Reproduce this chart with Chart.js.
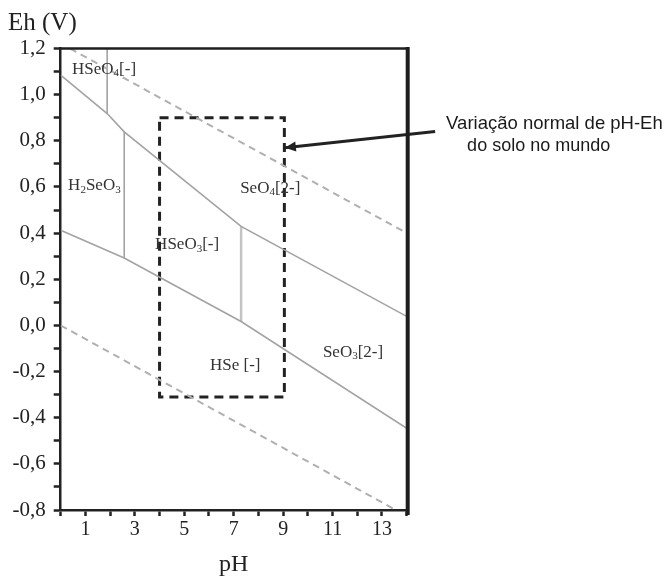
<!DOCTYPE html>
<html><head><meta charset="utf-8">
<script src="https://cdn.jsdelivr.net/npm/chart.js@4"></script>
<style>html,body{margin:0;padding:0;background:#fff}#wrap{width:670px;height:577px}</style>
</head><body><div id="wrap"><canvas id="c" width="670" height="577"></canvas></div>
<script>
// ---- data (pH, Eh in V) ----
const upperPH = [0, 1.88, 2.57, 7.30, 14];
const upperEh = [1.085, 0.918, 0.839, 0.429, 0.039];
const lowerPH = [0, 2.57, 7.30, 14];
const lowerEh = [0.412, 0.292, 0.017, -0.446];
const vert1PH = [1.88, 1.88];
const vert1Eh = [0.918, 1.2];
const vert2PH = [2.57, 2.57];
const vert2Eh = [0.292, 0.839];
const vert3PH = [7.30, 7.30];
const vert3Eh = [0.017, 0.429];
const waterUpPH = [0.38, 14];
const waterUpEh = [1.2, 0.40];
const waterLowPH = [0, 13.56];
const waterLowEh = [0, -0.8];
const boxPH = [4.0, 9.05];
const boxEh = [-0.31, 0.90];
const arrowPH = [15.15, 9.07];
const arrowEh = [0.84, 0.77];

const xTickValues = [1, 3, 5, 7, 9, 11, 13];
const xTickLabels = ['1', '3', '5', '7', '9', '11', '13'];
const yTickValues = [-0.8, -0.6, -0.4, -0.2, 0, 0.2, 0.4, 0.6, 0.8, 1.0, 1.2];
const yTickLabels = ['-0,8', '-0,6', '-0,4', '-0,2', '0,0', '0,2', '0,4', '0,6', '0,8', '1,0', '1,2'];

// region labels: [text, isSubscript] parts
const regionNames = [
  [['HSeO', false], ['4', true], ['[-]', false]],
  [['H', false], ['2', true], ['SeO', false], ['3', true]],
  [['SeO', false], ['4', true], ['[2-]', false]],
  [['HSeO', false], ['3', true], ['[-]', false]],
  [['HSe [-]', false]],
  [['SeO', false], ['3', true], ['[2-]', false]]
];
const regionPH = [0.46, 0.30, 7.26, 3.82, 6.04, 10.61];
const regionEh = [1.109, 0.604, 0.595, 0.350, -0.175, -0.117];

const noteLines = ['Variação normal de pH-Eh', 'do solo no mundo'];
const xTitle = 'pH';
const yTitle = 'Eh (V)';

// ---- helpers ----
const pts = (xs, ys) => xs.map((x, i) => ({x: x, y: ys[i]}));
const boxPts = [
  {x: boxPH[0], y: boxEh[1]}, {x: boxPH[1], y: boxEh[1]},
  {x: boxPH[1], y: boxEh[0]}, {x: boxPH[0], y: boxEh[0]},
  {x: boxPH[0], y: boxEh[1]}
];

const SERIF = '"Liberation Serif", "Times New Roman", serif';
const SANS = '"Liberation Sans", Arial, sans-serif';
const solid = (data, color, w) => ({data, showLine: true, borderColor: color, borderWidth: w, pointRadius: 0, fill: false, tension: 0});

const datasets = [
  Object.assign(solid(pts(waterUpPH, waterUpEh), '#b0b0b0', 2), {borderDash: [7, 5]}),
  Object.assign(solid(pts(waterLowPH, waterLowEh), '#b0b0b0', 2), {borderDash: [7, 5]}),
  solid(pts(upperPH, upperEh), '#a3a3a3', 1.6),
  solid(pts(lowerPH, lowerEh), '#a3a3a3', 1.6),
  solid(pts(vert1PH, vert1Eh), '#a3a3a3', 1.6),
  solid(pts(vert2PH, vert2Eh), '#a3a3a3', 1.6),
  solid(pts(vert3PH, vert3Eh), '#c4c4c4', 2.5),
  Object.assign(solid(boxPts, '#222222', 3), {borderDash: [9, 6], borderCapStyle: 'butt'}),
  Object.assign(solid(pts(arrowPH, arrowEh), '#222222', 3), {clip: false})
];

const decorPlugin = {
  id: 'decor',
  afterDatasetsDraw(chart) {
    const {ctx, chartArea: a, scales: {x, y}} = chart;
    ctx.save();
    // top and right frame
    ctx.strokeStyle = '#1e1e1e';
    ctx.lineWidth = 2.5;
    ctx.beginPath(); ctx.moveTo(a.left, a.top); ctx.lineTo(a.right + 2, a.top); ctx.stroke();
    ctx.lineWidth = 4;
    ctx.beginPath(); ctx.moveTo(a.right + 1, a.top - 1.5); ctx.lineTo(a.right + 1, a.bottom + 5); ctx.stroke();

    // arrow head
    const tx = x.getPixelForValue(arrowPH[1]), ty = y.getPixelForValue(arrowEh[1]);
    const sx = x.getPixelForValue(arrowPH[0]), sy = y.getPixelForValue(arrowEh[0]);
    const ang = Math.atan2(ty - sy, tx - sx);
    const L = 11, W = 5;
    ctx.fillStyle = '#222';
    ctx.beginPath();
    ctx.moveTo(tx, ty);
    ctx.lineTo(tx - L * Math.cos(ang) + W * Math.sin(ang), ty - L * Math.sin(ang) - W * Math.cos(ang));
    ctx.lineTo(tx - L * Math.cos(ang) - W * Math.sin(ang), ty - L * Math.sin(ang) + W * Math.cos(ang));
    ctx.closePath(); ctx.fill();

    // region labels
    ctx.fillStyle = '#333';
    ctx.textBaseline = 'middle';
    ctx.textAlign = 'left';
    regionNames.forEach((parts, i) => {
      let px = x.getPixelForValue(regionPH[i]);
      const py = y.getPixelForValue(regionEh[i]);
      parts.forEach(([t, sub]) => {
        ctx.font = (sub ? '11px ' : '17px ') + SERIF;
        ctx.fillText(t, px, sub ? py + 4 : py);
        px += ctx.measureText(t).width;
      });
    });

    // note text
    ctx.fillStyle = '#1a1a1a';
    ctx.font = '18.5px ' + SANS;
    ctx.fillText(noteLines[0], sx + 11, sy - 8);
    ctx.font = '18px ' + SANS;
    ctx.fillText(noteLines[1], sx + 32, sy + 14);

    // y title
    ctx.fillStyle = '#222';
    ctx.font = '25px ' + SERIF;
    ctx.fillText(yTitle, 8, 23);
    ctx.restore();
  }
};

new Chart(document.getElementById('c'), {
  type: 'scatter',
  data: {datasets},
  options: {
    responsive: false,
    animation: false,
    events: [],
    layout: {padding: {top: 48.5, right: 263.3, bottom: 0, left: 0}},
    plugins: {legend: {display: false}, tooltip: {enabled: false}, title: {display: false}},
    scales: {
      x: {
        type: 'linear', min: 0, max: 14,
        ticks: {
          stepSize: 1, autoSkip: false, maxRotation: 0, padding: 2,
          color: '#222', font: {family: SERIF, size: 20},
          callback: v => {
            const i = xTickValues.findIndex(t => Math.abs(t - v) < 1e-6);
            return i >= 0 ? xTickLabels[i] : '';
          }
        },
        grid: {drawOnChartArea: false, drawTicks: true, tickLength: 6, tickWidth: 2.5, tickColor: '#222'},
        border: {color: '#222', width: 2.5},
        title: {display: true, text: xTitle, color: '#222', font: {family: SERIF, size: 24, lineHeight: 1}, padding: {top: 0, bottom: 0}},
        afterFit: s => { s.height = 67; }
      },
      y: {
        type: 'linear', min: -0.8, max: 1.2,
        ticks: {
          stepSize: 0.1, autoSkip: false, maxTicksLimit: 40, padding: 8,
          color: '#222', font: {family: SERIF, size: 21},
          callback: v => {
            const i = yTickValues.findIndex(t => Math.abs(t - v) < 1e-6);
            return i >= 0 ? yTickLabels[i] : '';
          }
        },
        grid: {drawOnChartArea: false, drawTicks: true, tickLength: 7, tickWidth: 2.5, tickColor: '#222'},
        border: {color: '#222', width: 2.5},
        afterFit: s => { s.width = 60.7; }
      }
    }
  },
  plugins: [decorPlugin]
});
</script>
</body></html>
